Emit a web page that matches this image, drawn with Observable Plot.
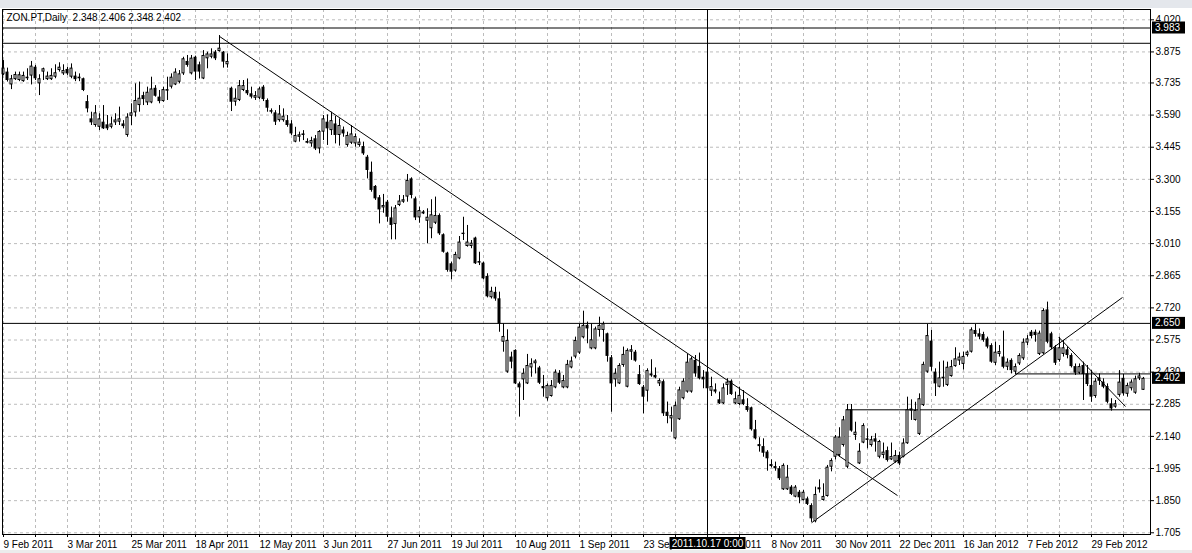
<!DOCTYPE html>
<html><head><meta charset="utf-8">
<script src="https://cdn.jsdelivr.net/npm/d3@7"></script>
<script src="https://cdn.jsdelivr.net/npm/@observablehq/plot@0.6"></script>
<style>
html,body{margin:0;padding:0;background:#fff;}
#chart{position:relative;width:1192px;height:553px;overflow:hidden;}
</style></head><body><div id="chart"></div>
<script>
const symbolTitle = "ZON.PT,Daily\u00a0\u00a02.348 2.406 2.348 2.402";
const dateLabels = ["9 Feb 2011","3 Mar 2011","25 Mar 2011","18 Apr 2011","12 May 2011","3 Jun 2011","27 Jun 2011","19 Jul 2011","10 Aug 2011","1 Sep 2011","23 Sep 2011","17 Oct 2011","8 Nov 2011","30 Nov 2011","22 Dec 2011","16 Jan 2012","7 Feb 2012","29 Feb 2012"];
const barsPerLabel = 16;
const priceTicks = [4.020,3.875,3.735,3.590,3.445,3.300,3.155,3.010,2.865,2.720,2.575,2.430,2.285,2.140,1.995,1.850,1.705];

const open = [
3.772,3.784,3.726,3.750,3.746,3.741,3.761,3.766,3.806,3.731,
3.784,3.750,3.750,3.761,3.791,3.776,3.796,3.761,3.766,3.761,
3.754,3.651,3.573,3.543,3.535,3.558,3.546,3.535,3.555,3.558,
3.550,3.498,3.585,3.600,3.633,3.678,3.645,3.645,3.711,3.671,
3.651,3.705,3.716,3.726,3.738,3.776,3.832,3.776,3.851,3.817,
3.753,3.844,3.851,3.874,3.877,3.874,3.817,3.711,3.648,3.656,
3.701,3.701,3.686,3.666,3.666,3.716,3.656,3.610,3.600,3.565,
3.565,3.565,3.550,3.468,3.490,3.498,3.471,3.460,3.483,3.437,
3.513,3.558,3.520,3.550,3.498,3.523,3.453,3.463,3.460,3.453,
3.448,3.400,3.332,3.268,3.217,3.171,3.197,3.126,3.096,3.182,
3.197,3.220,3.302,3.212,3.126,3.152,3.111,3.077,3.102,3.137,
3.050,2.967,2.919,2.886,2.941,3.057,2.997,2.997,3.035,2.929,
2.922,2.862,2.766,2.790,2.761,2.565,2.430,2.498,2.528,2.377,
2.395,2.377,2.449,2.468,2.449,2.365,2.310,2.320,2.359,2.425,
2.359,2.359,2.449,2.498,2.516,2.585,2.641,2.535,2.535,2.618,
2.618,2.603,2.495,2.395,2.377,2.460,2.362,2.520,2.520,2.419,
2.362,2.344,2.422,2.415,2.377,2.387,2.249,2.219,2.129,2.215,
2.310,2.340,2.340,2.483,2.456,2.407,2.430,2.344,2.350,2.305,
2.287,2.370,2.389,2.287,2.284,2.305,2.275,2.269,2.170,2.103,
2.094,2.069,2.013,2.004,1.994,1.899,1.899,1.911,1.866,1.888,
1.851,1.858,1.828,1.755,1.908,1.851,1.869,2.001,2.046,2.054,
2.099,2.001,2.260,2.144,2.016,2.110,2.129,2.099,2.129,2.046,
2.054,2.076,2.034,2.024,2.054,2.046,2.107,2.264,2.212,2.149,
2.279,2.430,2.570,2.430,2.362,2.407,2.370,2.410,2.455,2.480,
2.465,2.505,2.520,2.618,2.603,2.600,2.580,2.550,2.470,2.510,
2.498,2.452,2.483,2.430,2.467,2.490,2.561,2.610,2.610,2.510,
2.513,2.711,2.603,2.540,2.483,2.510,2.531,2.505,2.455,2.425,
2.460,2.422,2.370,2.320,2.404,2.385,2.365,2.287,2.272,2.325,
2.402,2.330,2.355,2.335,2.400,2.348];
const high = [
3.836,3.802,3.769,3.784,3.784,3.784,3.799,3.832,3.814,3.772,
3.802,3.784,3.799,3.817,3.826,3.817,3.806,3.821,3.784,3.776,
3.757,3.678,3.603,3.633,3.596,3.633,3.588,3.581,3.596,3.626,
3.565,3.596,3.641,3.731,3.739,3.693,3.716,3.761,3.723,3.701,
3.716,3.761,3.776,3.799,3.791,3.851,3.859,3.859,3.856,3.829,
3.881,3.874,3.889,3.881,3.949,3.877,3.866,3.716,3.708,3.746,
3.746,3.753,3.716,3.696,3.716,3.723,3.663,3.618,3.610,3.633,
3.618,3.588,3.565,3.535,3.513,3.520,3.483,3.490,3.498,3.520,
3.588,3.591,3.603,3.584,3.573,3.536,3.513,3.543,3.505,3.483,
3.468,3.408,3.378,3.272,3.227,3.232,3.205,3.175,3.182,3.227,
3.227,3.322,3.307,3.220,3.175,3.159,3.167,3.208,3.220,3.144,
3.054,2.971,2.926,2.971,3.042,3.129,3.092,3.024,3.039,2.971,
2.926,2.874,2.813,2.813,2.791,2.648,2.621,2.520,2.531,2.385,
2.445,2.510,2.490,2.486,2.456,2.415,2.377,2.392,2.440,2.437,
2.415,2.483,2.498,2.588,2.645,2.705,2.656,2.648,2.633,2.678,
2.656,2.606,2.505,2.445,2.468,2.543,2.535,2.550,2.528,2.460,
2.370,2.445,2.486,2.449,2.400,2.395,2.295,2.272,2.295,2.362,
2.400,2.510,2.498,2.505,2.516,2.437,2.437,2.407,2.377,2.340,
2.377,2.400,2.395,2.340,2.362,2.347,2.310,2.272,2.212,2.134,
2.129,2.076,2.034,2.024,2.004,2.016,2.009,1.918,1.918,1.896,
1.896,1.866,1.836,1.911,1.944,1.926,2.009,2.039,2.144,2.179,
2.230,2.284,2.284,2.204,2.107,2.197,2.174,2.140,2.152,2.122,
2.110,2.092,2.110,2.076,2.069,2.129,2.317,2.305,2.294,2.332,
2.475,2.645,2.618,2.445,2.475,2.480,2.475,2.483,2.540,2.516,
2.520,2.525,2.630,2.645,2.625,2.610,2.588,2.558,2.565,2.550,
2.615,2.490,2.490,2.467,2.513,2.580,2.595,2.618,2.620,2.615,
2.716,2.746,2.610,2.550,2.588,2.573,2.543,2.513,2.467,2.467,
2.475,2.460,2.437,2.400,2.422,2.400,2.377,2.310,2.302,2.437,
2.420,2.380,2.395,2.412,2.425,2.406];
const low = [
3.769,3.739,3.705,3.746,3.741,3.738,3.746,3.726,3.746,3.678,
3.746,3.746,3.746,3.754,3.784,3.769,3.769,3.754,3.741,3.741,
3.696,3.600,3.543,3.535,3.520,3.525,3.520,3.528,3.543,3.543,
3.528,3.490,3.543,3.581,3.603,3.633,3.633,3.641,3.671,3.641,
3.648,3.656,3.708,3.723,3.731,3.769,3.806,3.771,3.746,3.753,
3.750,3.799,3.844,3.836,3.874,3.802,3.802,3.606,3.630,3.651,
3.696,3.678,3.663,3.656,3.660,3.651,3.603,3.595,3.543,3.558,
3.558,3.535,3.498,3.465,3.468,3.475,3.460,3.445,3.430,3.415,
3.475,3.453,3.498,3.460,3.450,3.490,3.445,3.457,3.445,3.445,
3.408,3.302,3.242,3.205,3.099,3.147,3.107,3.027,3.027,3.177,
3.192,3.197,3.212,3.114,3.102,3.141,3.009,3.032,3.096,3.047,
2.967,2.881,2.847,2.881,2.937,3.024,2.994,2.987,2.916,2.911,
2.847,2.765,2.760,2.750,2.610,2.520,2.425,2.445,2.374,2.227,
2.302,2.374,2.407,2.422,2.374,2.317,2.299,2.317,2.355,2.374,
2.355,2.355,2.445,2.490,2.510,2.580,2.558,2.531,2.531,2.588,
2.565,2.475,2.249,2.362,2.374,2.452,2.359,2.483,2.475,2.370,
2.242,2.295,2.407,2.400,2.365,2.230,2.197,2.159,2.124,2.212,
2.305,2.335,2.335,2.407,2.395,2.355,2.347,2.320,2.332,2.284,
2.284,2.325,2.325,2.284,2.279,2.279,2.249,2.164,2.124,2.069,
2.046,1.983,1.998,1.983,1.941,1.896,1.896,1.873,1.863,1.836,
1.848,1.828,1.752,1.750,1.884,1.848,1.866,1.980,2.034,2.046,
2.092,1.994,2.159,2.122,2.013,2.107,2.084,2.092,2.069,2.039,
2.039,2.024,2.031,2.019,2.009,2.043,2.104,2.212,2.209,2.144,
2.275,2.425,2.434,2.320,2.359,2.362,2.365,2.407,2.452,2.460,
2.440,2.498,2.516,2.588,2.576,2.565,2.535,2.470,2.460,2.498,
2.445,2.437,2.422,2.419,2.460,2.483,2.550,2.580,2.565,2.505,
2.510,2.558,2.531,2.460,2.475,2.498,2.490,2.449,2.415,2.419,
2.302,2.365,2.294,2.312,2.370,2.355,2.287,2.254,2.267,2.317,
2.322,2.317,2.345,2.330,2.392,2.348];
const close = [
3.802,3.746,3.754,3.773,3.772,3.769,3.754,3.811,3.754,3.754,
3.799,3.766,3.769,3.781,3.806,3.791,3.776,3.802,3.750,3.754,
3.701,3.618,3.555,3.600,3.573,3.528,3.528,3.550,3.568,3.573,
3.538,3.581,3.600,3.656,3.666,3.660,3.693,3.708,3.675,3.651,
3.705,3.698,3.761,3.784,3.776,3.844,3.814,3.847,3.784,3.784,
3.859,3.866,3.866,3.844,3.892,3.829,3.832,3.648,3.666,3.723,
3.723,3.686,3.671,3.678,3.708,3.660,3.621,3.603,3.558,3.595,
3.585,3.543,3.505,3.498,3.501,3.505,3.463,3.475,3.437,3.516,
3.573,3.528,3.565,3.498,3.543,3.505,3.498,3.505,3.493,3.468,
3.415,3.340,3.250,3.212,3.162,3.182,3.129,3.092,3.171,3.202,
3.208,3.295,3.227,3.126,3.159,3.144,3.129,3.140,3.137,3.054,
2.971,2.889,2.881,2.961,3.017,3.051,3.017,3.012,2.919,2.922,
2.851,2.770,2.795,2.760,2.648,2.591,2.573,2.475,2.377,2.359,
2.425,2.460,2.468,2.480,2.380,2.355,2.370,2.370,2.430,2.380,
2.392,2.465,2.480,2.573,2.633,2.641,2.625,2.576,2.625,2.641,
2.648,2.501,2.377,2.425,2.460,2.510,2.528,2.531,2.480,2.374,
2.317,2.437,2.413,2.404,2.392,2.242,2.230,2.234,2.279,2.350,
2.389,2.475,2.490,2.422,2.400,2.395,2.355,2.365,2.340,2.287,
2.359,2.385,2.329,2.310,2.325,2.284,2.257,2.170,2.129,2.094,
2.064,2.039,2.004,1.994,1.949,2.009,1.956,1.878,1.911,1.863,
1.888,1.833,1.768,1.878,1.899,1.869,2.001,2.031,2.137,2.137,
2.215,2.260,2.164,2.159,2.073,2.189,2.122,2.125,2.114,2.117,
2.069,2.031,2.049,2.054,2.016,2.110,2.260,2.254,2.257,2.310,
2.465,2.595,2.452,2.377,2.404,2.400,2.452,2.455,2.490,2.498,
2.501,2.520,2.621,2.600,2.588,2.573,2.543,2.475,2.520,2.523,
2.452,2.475,2.437,2.455,2.505,2.565,2.580,2.591,2.595,2.606,
2.708,2.565,2.540,2.470,2.540,2.540,2.505,2.455,2.425,2.455,
2.419,2.374,2.317,2.389,2.389,2.362,2.294,2.264,2.287,2.385,
2.332,2.370,2.385,2.400,2.413,2.402];

// drawn objects (bar index / price)
const fullLevels = [2.650, 3.914];
const partialLevels = [{start: 253, price: 2.422}, {start: 210.8, price: 2.260}];
const trendLines = [
  {x1: 54, y1: 3.945, x2: 223.5, y2: 1.873},
  {x1: 202, y1: 1.750, x2: 279.75, y2: 2.767},
  {x1: 263.8, y1: 2.588, x2: 280.5, y2: 2.275}
];
const crosshair = {bar: 176, price: 3.983, label: "2011.10.17 0:00"};
const bidPrice = 2.402;
const axisPriceBoxes = [3.983, 2.650, 2.402];

const xDomain = [-0.25, 286.75];
const yDomain = [1.6973, 4.0665];

const bars = open.map((o, i) => ({i, o, h: high[i], l: low[i], c: close[i]}));
const bulls = bars.filter(d => d.c >= d.o);
const lastBar = bars.length - 1;
const tickBars = d3.range(0, lastBar + 1, 8);

const plot = Plot.plot({
  width: 1192, height: 553,
  marginLeft: 2, marginRight: 42, marginTop: 9, marginBottom: 19,
  style: {fontFamily: "'Liberation Sans', Arial, sans-serif", fontSize: "10px", background: "white", color: "black"},
  x: {type: "linear", domain: xDomain},
  y: {type: "linear", domain: yDomain},
  marks: [
    Plot.gridY(priceTicks, {stroke: "#bcbcbc", strokeOpacity: 1, strokeDasharray: "3,3"}),
    Plot.gridX(tickBars, {stroke: "#bcbcbc", strokeOpacity: 1, strokeDasharray: "3,3"}),
    Plot.ruleY([bidPrice], {stroke: "#c0c0c0", strokeWidth: 1}),
    Plot.ruleY(fullLevels, {stroke: "black", strokeWidth: 1}),
    Plot.ruleY([crosshair.price], {stroke: "black", strokeWidth: 1}),
    Plot.ruleY(partialLevels, {y: "price", x1: "start", x2: () => xDomain[1], stroke: "black"}),
    Plot.ruleX([crosshair.bar], {stroke: "black", strokeWidth: 1}),
    Plot.link(trendLines, {x1: "x1", y1: "y1", x2: "x2", y2: "y2", stroke: "black", strokeWidth: 1}),
    Plot.ruleX(bars, {x: "i", y1: "l", y2: "h", stroke: "black", strokeWidth: 1}),
    Plot.rect(bars, {x1: d => d.i - 0.375, x2: d => d.i + 0.375, y1: "o", y2: "c", fill: "black"}),
    Plot.rect(bulls, {x1: d => d.i - 0.125, x2: d => d.i + 0.125, y1: "o", y2: "c", fill: "white", insetTop: 1, insetBottom: 1}),
    Plot.frame({stroke: "black"}),
    Plot.axisY(priceTicks, {anchor: "right", tickSize: 3, tickPadding: 2, tickFormat: d => d.toFixed(3), fontSize: 10}),
    Plot.axisX(tickBars, {anchor: "bottom", tickSize: 3, tickPadding: 3, textAnchor: "start",
      tickFormat: d => d % barsPerLabel === 0 ? dateLabels[d / barsPerLabel] : "", fontSize: 10}),
    Plot.text([symbolTitle], {frameAnchor: "top-left", dx: 4, dy: 8, textAnchor: "start", lineAnchor: "middle", fontSize: 10, fill: "black"})
  ]
});

const xs = plot.scale("x"), ys = plot.scale("y");
const svg = d3.select(plot);
// window chrome strips
svg.insert("rect", ":first-child").attr("x", 0).attr("y", 0).attr("width", 1192).attr("height", 8).attr("fill", "#e4e7ec");
svg.append("rect").attr("x", 0).attr("y", 550).attr("width", 1192).attr("height", 3).attr("fill", "#ececec");
// price boxes on the right axis
const g = svg.append("g").attr("text-anchor", "start")
  .attr("font-family", "'Liberation Sans', Arial, sans-serif").attr("font-size", 10);
axisPriceBoxes.forEach(p => {
  const yy = ys.apply(p);
  g.append("rect").attr("x", 1152).attr("y", yy - 6).attr("width", 33).attr("height", 12).attr("fill", "black");
  g.append("text").attr("x", 1155).attr("y", yy).attr("dy", "0.35em").attr("fill", "white")
    .attr("text-anchor", "start").text(p.toFixed(3));
});
// crosshair time label
const cx = xs.apply(crosshair.bar) + 0.5;
g.append("rect").attr("x", cx - 38).attr("y", 537).attr("width", 76).attr("height", 12).attr("fill", "black");
g.append("text").attr("x", cx).attr("y", 543).attr("dy", "0.35em").attr("text-anchor", "middle")
  .attr("fill", "white").text(crosshair.label);

document.getElementById("chart").appendChild(plot);
</script>
</body></html>
